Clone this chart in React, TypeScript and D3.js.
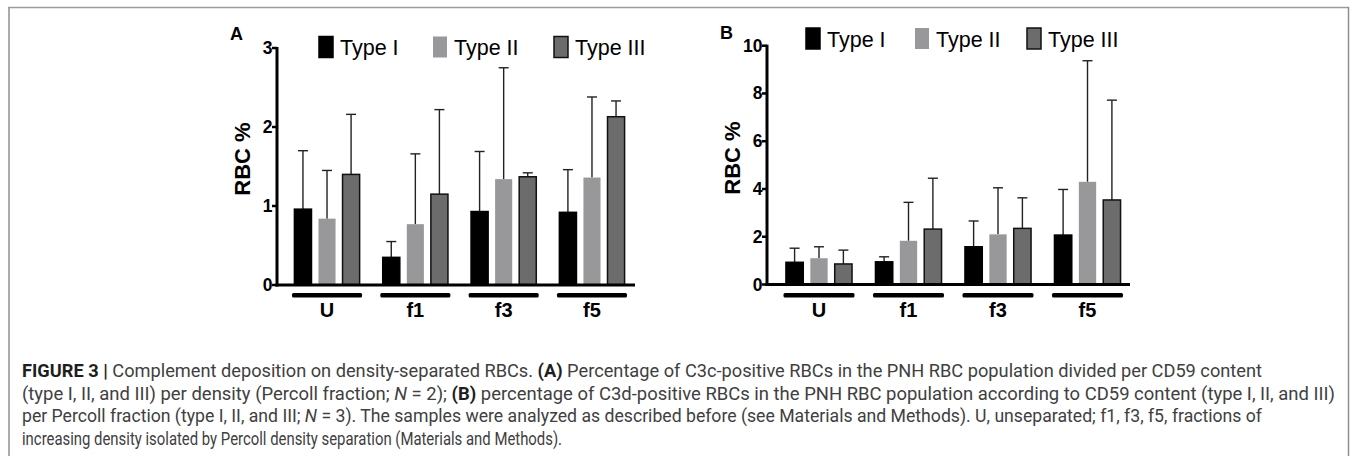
import React from "react";
import * as d3 from "d3";

const groups = ["U", "f1", "f3", "f5"];
const types = ["Type I", "Type II", "Type III"];

// Panel A (C3c), mean and upper SD per group x type
const meanA = [
  [0.96, 0.84, 1.4],
  [0.35, 0.77, 1.15],
  [0.93, 1.34, 1.37],
  [0.92, 1.36, 2.13],
];
const sdA = [
  [0.74, 0.61, 0.76],
  [0.2, 0.89, 1.07],
  [0.76, 1.41, 0.05],
  [0.54, 1.02, 0.2],
];
const ticksA = [0, 1, 2, 3];

// Panel B (C3d)
const meanB = [
  [0.93, 1.1, 0.86],
  [0.95, 1.83, 2.32],
  [1.58, 2.1, 2.35],
  [2.07, 4.3, 3.54],
];
const sdB = [
  [0.59, 0.48, 0.58],
  [0.21, 1.61, 2.13],
  [1.08, 1.95, 1.28],
  [1.91, 5.07, 4.18],
];
const ticksB = [0, 2, 4, 6, 8, 10];

const fills = ["#000000", "#98989b", "#6c6c6c"];
const strokes = ["#000000", "none", "#111111"];

const FONT = "'Liberation Sans', Arial, Helvetica, sans-serif";

type PanelProps = {
  label: string;
  mean: number[][];
  sd: number[][];
  ticks: number[];
  yMax: number;
  axisX: number;
  axisEnd: number;
  y0: number;
  yTop: number;
  bandStart: number;
  bandEnd: number;
  labelPos: [number, number];
  titlePos: [number, number];
  legendY: number;
  legendX: number[];
};

function Panel(p: PanelProps) {
  const y = d3.scaleLinear().domain([0, p.yMax]).range([p.y0, p.yTop]);
  const x0 = d3
    .scaleBand<string>()
    .domain(groups)
    .range([p.bandStart, p.bandEnd])
    .paddingInner(0.207)
    .paddingOuter(0);
  const x1 = d3
    .scaleBand<string>()
    .domain(types)
    .range([0, x0.bandwidth()])
    .paddingInner(0.29)
    .paddingOuter(0.1);
  const bw = x1.bandwidth();
  return (
    <g>
      <text x={p.labelPos[0]} y={p.labelPos[1]} fontFamily={FONT} fontWeight="bold" fontSize={18}>
        {p.label}
      </text>
      {/* legend */}
      {types.map((t, i) => (
        <g key={t}>
          <rect
            x={p.legendX[i]}
            y={p.legendY}
            width={14}
            height={21}
            fill={fills[i]}
            stroke={strokes[i]}
            strokeWidth={1.5}
          />
          <text
            x={p.legendX[i] + 21}
            y={p.legendY + 18.5}
            fontFamily={FONT}
            fontSize={21.5}
            fill="#000"
          >
            {t}
          </text>
        </g>
      ))}
      {/* y title */}
      <text
        transform={`translate(${p.titlePos[0]},${p.titlePos[1]}) rotate(-90)`}
        textAnchor="middle"
        dominantBaseline="central"
        fontFamily={FONT}
        fontWeight="bold"
        fontSize={22}
      >
        RBC %
      </text>
      {/* bars */}
      {groups.map((g, gi) => (
        <g key={g} transform={`translate(${x0(g)},0)`}>
          {types.map((t, ti) => {
            const v = p.mean[gi][ti];
            const top = v + p.sd[gi][ti];
            const bx = x1(t) as number;
            const cx = bx + bw / 2;
            return (
              <g key={t}>
                <line x1={cx} x2={cx} y1={y(v)} y2={y(top)} stroke="#222" strokeWidth={1.4} />
                <line x1={cx - 5} x2={cx + 5} y1={y(top)} y2={y(top)} stroke="#222" strokeWidth={1.4} />
                <rect
                  x={bx}
                  y={y(v)}
                  width={bw}
                  height={y(0) - y(v)}
                  fill={fills[ti]}
                  stroke={strokes[ti]}
                  strokeWidth={1.5}
                />
              </g>
            );
          })}
          <rect x={0} y={293} width={x0.bandwidth()} height={4.5} rx={1.5} fill="#000" />
          <text
            x={x0.bandwidth() / 2}
            y={316.5}
            textAnchor="middle"
            fontFamily={FONT}
            fontWeight="bold"
            fontSize={20}
          >
            {g}
          </text>
        </g>
      ))}
      {/* axes */}
      <line x1={p.axisX} x2={p.axisX} y1={y(p.yMax) - 1} y2={p.y0 + 1.5} stroke="#000" strokeWidth={3} />
      <line x1={p.axisX - 1.5} x2={p.axisEnd} y1={p.y0} y2={p.y0} stroke="#000" strokeWidth={3} />
      {p.ticks.map((t) => (
        <g key={t}>
          <line x1={p.axisX - 5} x2={p.axisX} y1={y(t)} y2={y(t)} stroke="#000" strokeWidth={2.5} />
          <text
            x={p.axisX - 4.5}
            y={y(t)}
            textAnchor="end"
            dominantBaseline="central"
            fontFamily={FONT}
            fontWeight="bold"
            fontSize={17.5}
          >
            {t}
          </text>
        </g>
      ))}
    </g>
  );
}

const CAP_FONT = "Roboto, 'Liberation Sans', Arial, sans-serif";

export default function App() {
  const capColor = "#404040";
  return (
    <div style={{ position: "absolute", left: 0, top: 0 }}>
      <svg width={1357} height={456} style={{ display: "block", background: "#fff" }}>
        {/* frame */}
        <line x1={8.5} x2={1349} y1={7.5} y2={7.5} stroke="#9c9c9c" strokeWidth={1.5} />
        <line x1={9} x2={9} y1={7} y2={456} stroke="#8f8f8f" strokeWidth={1.5} />
        <line x1={1348.5} x2={1348.5} y1={7} y2={456} stroke="#8f8f8f" strokeWidth={1.5} />

        <Panel
          label="A"
          mean={meanA}
          sd={sdA}
          ticks={ticksA}
          yMax={3}
          axisX={277}
          axisEnd={635}
          y0={285}
          yTop={48}
          bandStart={292}
          bandEnd={627}
          labelPos={[230, 40]}
          titlePos={[242, 159]}
          legendY={36.5}
          legendX={[319, 433, 554]}
        />
        <Panel
          label="B"
          mean={meanB}
          sd={sdB}
          ticks={ticksB}
          yMax={10}
          axisX={767}
          axisEnd={1130}
          y0={284.5}
          yTop={45.7}
          bandStart={783.5}
          bandEnd={1123}
          labelPos={[720, 39]}
          titlePos={[732, 158]}
          legendY={28}
          legendX={[806, 915, 1027]}
        />

        {/* caption */}
        <g fontFamily={CAP_FONT} fontSize={17.5} fill={capColor}>
          <text x={22} y={377} textLength={1240} lengthAdjust="spacingAndGlyphs">
            <tspan fontWeight="bold" fill="#1e1e1e">FIGURE 3 | </tspan>
            Complement deposition on density-separated RBCs. <tspan fontWeight="bold" fill="#1e1e1e">(A)</tspan> Percentage of C3c-positive RBCs in the PNH RBC population divided per CD59 content
          </text>
          <text x={22} y={399.5} textLength={1313} lengthAdjust="spacingAndGlyphs">
            (type I, II, and III) per density (Percoll fraction; <tspan fontStyle="italic">N</tspan> = 2); <tspan fontWeight="bold" fill="#1e1e1e">(B)</tspan> percentage of C3d-positive RBCs in the PNH RBC population according to CD59 content (type I, II, and III)
          </text>
          <text x={22} y={422} textLength={1240} lengthAdjust="spacingAndGlyphs">
            per Percoll fraction (type I, II, and III; <tspan fontStyle="italic">N</tspan> = 3). The samples were analyzed as described before (see Materials and Methods). U, unseparated; f1, f3, f5, fractions of
          </text>
          <text x={22} y={444.5} textLength={540} lengthAdjust="spacingAndGlyphs">
            increasing density isolated by Percoll density separation (Materials and Methods).
          </text>
        </g>
      </svg>
    </div>
  );
}
